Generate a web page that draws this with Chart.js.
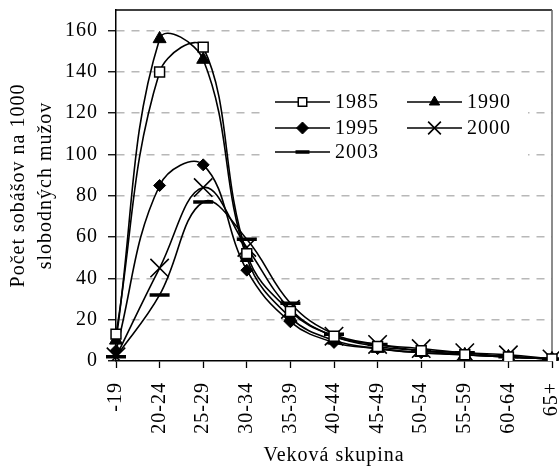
<!DOCTYPE html>
<html>
<head>
<meta charset="utf-8">
<script src="https://cdn.jsdelivr.net/npm/chart.js@4"></script>
<style>
  html, body { margin: 0; padding: 0; background: #fff; }
  #wrap { width: 559px; height: 468px; }
</style>
</head>
<body>
<div id="wrap"><canvas id="chart" width="559" height="468"></canvas></div>
<script>
// Age groups and marriage rates per 1000 single men
const ageGroups = ['-19', '20-24', '25-29', '30-34', '35-39', '40-44', '45-49', '50-54', '55-59', '60-64', '65+'];
const y1985 = [13, 140, 152, 52, 24, 12, 7, 5, 3, 2, 1];
const y1990 = [10, 156, 146, 50, 21, 10, 6, 4, 3, 2, 1];
const y1995 = [5, 85, 95, 44, 19, 9, 6, 4, 3, 2, 1];
const y2000 = [2, 45, 84, 55, 25, 12, 8, 6, 4, 3, 1];
const y2003 = [2, 32, 77, 59, 28, 13, 8, 5, 4, 2, 1];
const yTicks = [0, 20, 40, 60, 80, 100, 120, 140, 160];

const FONT = "'Liberation Serif', 'Times New Roman', serif";

function series(label, data, style, radius, bg, bw) {
  return {
    label: label,
    data: data,
    borderColor: '#000',
    borderWidth: 1.6,
    tension: 0.4,
    pointStyle: style,
    pointRadius: radius,
    pointHoverRadius: radius,
    pointBackgroundColor: bg,
    pointBorderColor: '#000',
    pointBorderWidth: bw
  };
}

const datasets = [
  series('1985', y1985, 'rect', 7, '#fff', 1.5),
  series('1990', y1990, 'triangle', 7.5, '#000', 1),
  series('1995', y1995, 'rectRot', 6, '#000', 1),
  series('2000', y2000, 'crossRot', 13, '#000', 1.6),
  series('2003', y2003, 'line', 10, '#000', 3.5)
];

// canvas resets its state on resize, so set the spacing again before layout and drawing
const spacing = {
  id: 'spacing',
  beforeLayout(chart) { chart.ctx.letterSpacing = '1px'; },
  beforeDraw(chart) { chart.ctx.letterSpacing = '1px'; }
};

// white legend box inside the plot, plus top/right frame
const insideLegend = {
  id: 'insideLegend',
  beforeDatasetsDraw(chart) {
    const ctx = chart.ctx;
    const a = chart.chartArea;
    ctx.save();
    ctx.fillStyle = '#fff';
    ctx.fillRect(265, 88, 263, 80);
    ctx.lineWidth = 1.5;
    ctx.strokeStyle = '#000';
    ctx.beginPath();
    ctx.moveTo(a.left, a.top);
    ctx.lineTo(a.right, a.top);
    ctx.stroke();
    ctx.strokeStyle = '#666';
    ctx.beginPath();
    ctx.moveTo(a.right, a.top);
    ctx.lineTo(a.right, a.bottom);
    ctx.stroke();

    const cols = [275, 407];
    const rows = [102, 128, 152];
    chart.data.datasets.forEach((ds, i) => {
      const x0 = cols[i % 2];
      const y = rows[Math.floor(i / 2)];
      ctx.strokeStyle = '#000';
      ctx.lineWidth = 1.6;
      ctx.beginPath();
      ctx.moveTo(x0, y);
      ctx.lineTo(x0 + 55, y);
      ctx.stroke();
      ctx.fillStyle = ds.pointBackgroundColor;
      ctx.strokeStyle = '#000';
      ctx.lineWidth = ds.pointBorderWidth;
      const r = ds.pointStyle === 'crossRot' ? 9 : (ds.pointStyle === 'line' ? 7 : 6);
      Chart.helpers.drawPoint(ctx, { pointStyle: ds.pointStyle, radius: r, borderWidth: ds.pointBorderWidth }, x0 + 27.5, y);
      ctx.fillStyle = '#000';
      ctx.font = '20px ' + FONT;
      ctx.textBaseline = 'middle';
      ctx.fillText(ds.label, x0 + 60, y + 1);
    });
    ctx.restore();
  }
};

new Chart(document.getElementById('chart'), {
  type: 'line',
  data: { labels: ageGroups, datasets: datasets },
  plugins: [spacing, insideLegend],
  options: {
    responsive: false,
    animation: false,
    layout: { autoPadding: false, padding: { top: 10, right: 7, left: 0, bottom: 0 } },
    plugins: {
      legend: { display: false },
      tooltip: { enabled: false }
    },
    scales: {
      x: {
        type: 'category',
        offset: false,
        afterFit(scale) {
          scale.height = 107;
          scale.paddingLeft = 0;
          scale.paddingRight = 0;
        },
        grid: {
          drawOnChartArea: false,
          tickLength: 7,
          tickColor: '#000',
          tickWidth: 1.3
        },
        border: { color: '#000', width: 1.5 },
        ticks: {
          color: '#000',
          font: { family: FONT, size: 20 },
          minRotation: 90,
          maxRotation: 90,
          padding: 14,
          autoSkip: false
        },
        title: {
          display: true,
          text: 'Veková skupina',
          color: '#000',
          font: { family: FONT, size: 20 },
          padding: { top: 4, bottom: 0 }
        }
      },
      y: {
        min: 0,
        max: 170,
        afterBuildTicks(scale) {
          scale.ticks = yTicks.map(v => ({ value: v }));
        },
        afterFit(scale) {
          scale.width = 116;
          scale.paddingTop = 0;
          scale.paddingBottom = 0;
        },
        ticks: {
          color: '#000',
          font: { family: FONT, size: 20 },
          padding: 10
        },
        grid: {
          color: c => (c.tick && c.tick.value === 0 ? 'rgba(0,0,0,0)' : '#b8b8b8'),
          lineWidth: 1.5,
          tickLength: 8,
          tickColor: '#000',
          tickWidth: 1.3
        },
        border: { color: '#000', width: 1.5, dash: [8, 7] },
        title: {
          display: true,
          text: ['Počet sobášov na 1000', 'slobodných mužov'],
          color: '#000',
          font: { family: FONT, size: 20, lineHeight: 1.35 },
          padding: { top: 5, bottom: 0 }
        }
      }
    }
  }
});
</script>
</body>
</html>
